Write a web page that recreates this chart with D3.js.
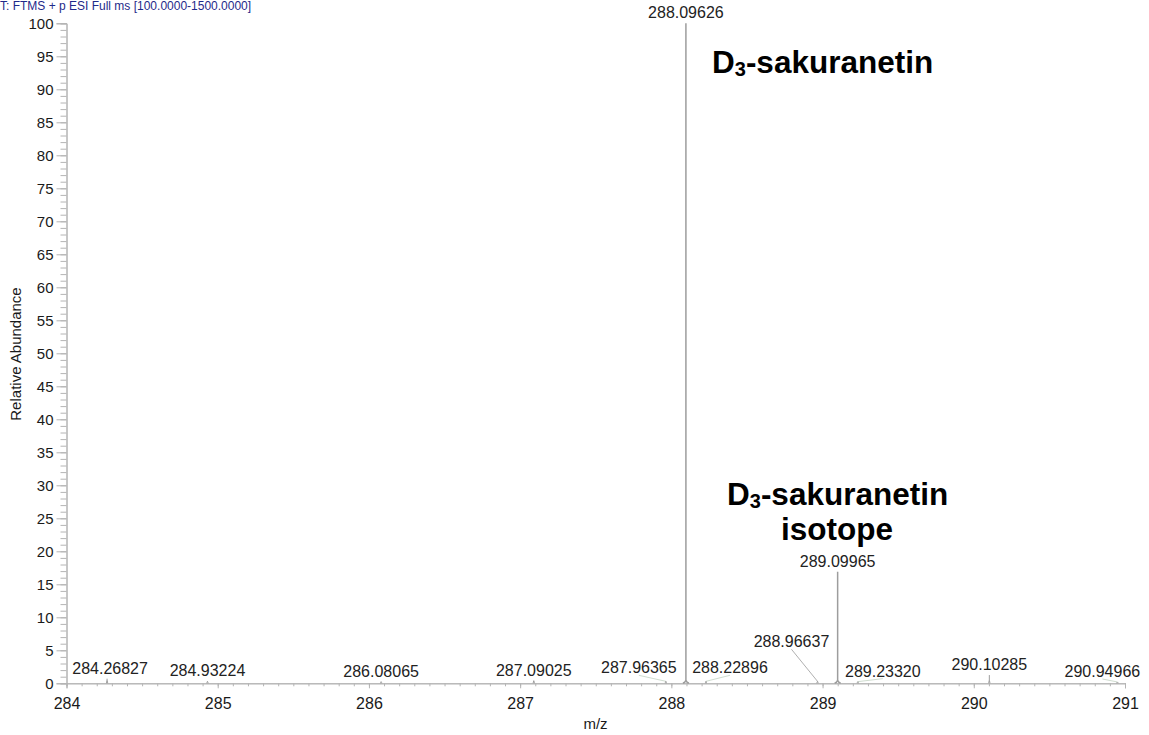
<!DOCTYPE html>
<html>
<head>
<meta charset="utf-8">
<script src="https://cdn.jsdelivr.net/npm/d3@7"></script>
<style>
  html, body { margin: 0; padding: 0; background: #fff; }
  svg { display: block; font-family: "Liberation Sans", Arial, sans-serif; }
</style>
</head>
<body>
<svg id="chart" width="1149" height="735"></svg>
<script>
// Centroid m/z of each labelled peak and its relative abundance (%)
const peakMz = [284.26827, 284.93224, 286.08065, 287.09025, 287.96365, 288.09626,
                288.22896, 288.96637, 289.09965, 289.23320, 290.10285, 290.94966];
const peakAbundance = [0.7, 0.3, 0.25, 0.4, 0.3, 100, 0.3, 0.3, 16.9, 0.25, 1.25, 0.2];
const peakLabels = ["284.26827", "284.93224", "286.08065", "287.09025", "287.96365", "288.09626",
                    "288.22896", "288.96637", "289.09965", "289.23320", "290.10285", "290.94966"];

// Axis ticks
const xMajorTicks = [284, 285, 286, 287, 288, 289, 290, 291];
const yMajorTicks = [0, 5, 10, 15, 20, 25, 30, 35, 40, 45, 50, 55, 60, 65, 70, 75, 80, 85, 90, 95, 100];

// Label nudges (px) so crowded labels do not collide; nudged labels get a leader line
const labelNudge = [[3, 0], [0, 0], [0, 0], [0, 0], [-27, -3], [0, 0],
                    [24, -3], [-26, -29], [0, 0], [25, 0], [0, 0], [-15, 0]];

const svg = d3.select("#chart");
const x = d3.scaleLinear().domain([284, 291]).range([66.5, 1125]);
const y = d3.scaleLinear().domain([0, 100]).range([683.3, 23.3]);
const axisColor = "#b4b4b4";

// Scan header line
svg.append("text")
  .attr("x", 0).attr("y", 10)
  .attr("font-size", 12).attr("fill", "#1f2a8a")
  .text("T: FTMS + p ESI Full ms [100.0000-1500.0000]");

// Y axis: minor ticks every 1 %, labelled ticks every 5 %
const yMinor = svg.append("g").attr("transform", `translate(${x(284)},0)`)
  .call(d3.axisLeft(y).tickValues(d3.range(0, 101, 1)).tickSize(6).tickFormat(""));
const yAxis = svg.append("g").attr("transform", `translate(${x(284)},0)`)
  .call(d3.axisLeft(y).tickValues(yMajorTicks).tickSize(10).tickPadding(3));

// X axis: minor ticks every 0.1, labelled ticks every 1
const xMinor = svg.append("g").attr("transform", `translate(0,${y(0)})`)
  .call(d3.axisBottom(x).tickValues(d3.range(0, 71).map(i => 284 + i / 10)).tickSize(3).tickFormat(""));
const xAxis = svg.append("g").attr("transform", `translate(0,${y(0)})`)
  .call(d3.axisBottom(x).tickValues(xMajorTicks).tickSize(5).tickPadding(9).tickFormat(d3.format("d")));

[yMinor, yAxis, xMinor, xAxis].forEach(g => {
  g.select(".domain").attr("stroke", axisColor).attr("stroke-width", 1);
  g.selectAll(".tick line").attr("stroke", axisColor);
});
yAxis.selectAll(".tick text").attr("font-size", 15).attr("fill", "#1a1a1a")
  .attr("font-family", "Liberation Sans, Arial, sans-serif");
xAxis.selectAll(".tick text").attr("font-size", 16).attr("fill", "#1a1a1a")
  .attr("font-family", "Liberation Sans, Arial, sans-serif");

// Axis titles
svg.append("text")
  .attr("transform", `translate(21,354) rotate(-90)`)
  .attr("text-anchor", "middle").attr("font-size", 15).attr("fill", "#1a1a1a")
  .text("Relative Abundance");
svg.append("text")
  .attr("x", 595.5).attr("y", 729)
  .attr("text-anchor", "middle").attr("font-size", 15).attr("fill", "#1a1a1a")
  .text("m/z");

const peaks = peakMz.map((mz, i) => ({
  mz, abund: peakAbundance[i], label: peakLabels[i],
  dx: labelNudge[i][0], dy: labelNudge[i][1]
}));

// Leader lines for nudged labels
svg.append("g").selectAll("line")
  .data(peaks.filter(p => Math.abs(p.dx) > 5 || p.dy !== 0))
  .join("line")
  .attr("x1", p => x(p.mz) + p.dx)
  .attr("y1", p => y(p.abund) - 5 + p.dy + 2)
  .attr("x2", p => x(p.mz))
  .attr("y2", p => y(p.abund))
  .attr("stroke", p => p.dy < -10 ? "#b0b0b0" : "#cfdccf")
  .attr("stroke-width", 1);

// Peak sticks with a slight profile flare at the base
svg.append("g").selectAll("path")
  .data(peaks)
  .join("path")
  .attr("d", p => {
    const cx = x(p.mz), top = y(p.abund), base = y(0);
    const w = p.abund > 10 ? 3 : 0.6;
    const knee = Math.max(base - 3, top);
    const path = d3.path();
    path.moveTo(cx - w, base);
    path.quadraticCurveTo(cx - 0.6, base - 1, cx, knee);
    path.lineTo(cx, top);
    path.moveTo(cx, knee);
    path.quadraticCurveTo(cx + 0.6, base - 1, cx + w, base);
    return path.toString();
  })
  .attr("fill", "none")
  .attr("stroke", "#9d9d9d")
  .attr("stroke-width", p => p.abund > 10 ? 1.5 : 1);

// Peak m/z labels
svg.append("g").selectAll("text")
  .data(peaks)
  .join("text")
  .attr("x", p => x(p.mz) + p.dx)
  .attr("y", p => y(p.abund) - 5 + p.dy)
  .attr("text-anchor", "middle")
  .attr("font-size", 16)
  .attr("fill", "#222")
  .text(p => p.label);

// Compound annotations
function annotate(xPos, yPos) {
  const t = svg.append("text")
    .attr("x", xPos).attr("y", yPos)
    .attr("font-size", 31.5).attr("font-weight", "bold").attr("fill", "#000");
  t.append("tspan").text("D");
  t.append("tspan").attr("font-size", 20).attr("dy", 3).text("3");
  t.append("tspan").attr("dy", -3).text("-sakuranetin");
  return t;
}
annotate(712, 73);
annotate(727, 505);
svg.append("text")
  .attr("x", 837).attr("y", 540).attr("text-anchor", "middle")
  .attr("font-size", 31.5).attr("font-weight", "bold").attr("fill", "#000")
  .text("isotope");
</script>
</body>
</html>
